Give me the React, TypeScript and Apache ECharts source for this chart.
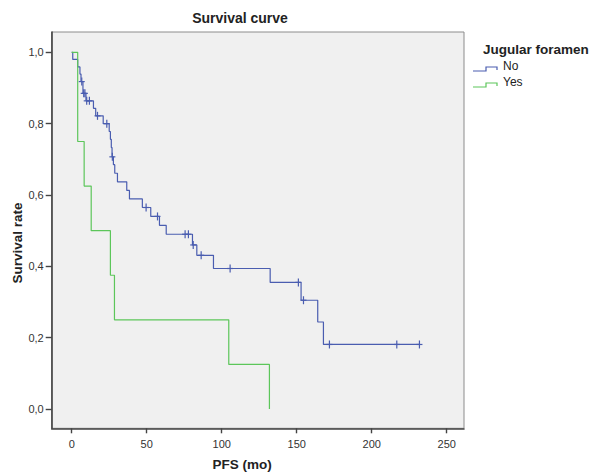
import React, { useEffect, useRef } from "react";
import * as echarts from "echarts";

// Kaplan-Meier step points: [time (months), survival after the event]
const noSteps: [number, number][] = [
  [0, 1.0], [0.7, 0.98], [4, 0.959], [5.5, 0.939], [6.2, 0.918], [7.5, 0.885],
  [9.5, 0.864], [14.5, 0.843], [16, 0.822], [21, 0.8], [25, 0.778], [25.8, 0.756],
  [26.4, 0.733], [26.9, 0.707], [27.8, 0.685], [28.7, 0.661], [30.5, 0.637],
  [36.7, 0.613], [38.5, 0.589], [47.1, 0.565], [52.7, 0.54], [58.5, 0.515],
  [63, 0.49], [80.5, 0.46], [83.4, 0.431], [94.5, 0.394], [132.3, 0.355],
  [152.9, 0.305], [164, 0.244], [167.8, 0.181], [231.8, 0.181],
];
const noCensored: [number, number][] = [
  [6.7, 0.918], [8.0, 0.885], [8.8, 0.885], [10, 0.864], [11.8, 0.864],
  [17.2, 0.822], [23.4, 0.8], [27.1, 0.707], [49.6, 0.565], [57.2, 0.54],
  [75.6, 0.49], [77.8, 0.49], [81, 0.46], [86.3, 0.431], [105.6, 0.394],
  [151.1, 0.355], [154.5, 0.305], [171.8, 0.181], [216.7, 0.181], [231.8, 0.181],
];
const yesSteps: [number, number][] = [
  [0, 1.0], [4, 0.75], [8.3, 0.625], [13, 0.5], [25.8, 0.375], [28.5, 0.25],
  [104.7, 0.125], [131.8, 0.0],
];

const xTicks = [0, 50, 100, 150, 200, 250];
const yTicks = [0, 0.2, 0.4, 0.6, 0.8, 1.0];

const BLUE = "#4a5db0";
const GREEN = "#5cc65a";
const FONT = "Liberation Sans, Arial, sans-serif";

function censorSeries(data: [number, number][], color: string) {
  return {
    type: "custom",
    data,
    z: 5,
    renderItem: (_params: any, api: any) => {
      const p = api.coord([api.value(0), api.value(1)]);
      return {
        type: "group",
        children: [
          {
            type: "line",
            shape: { x1: p[0], y1: p[1] - 4, x2: p[0], y2: p[1] + 4 },
            style: { stroke: color, lineWidth: 1.2 },
          },
          {
            type: "line",
            shape: { x1: p[0] - 3, y1: p[1], x2: p[0] + 3, y2: p[1] },
            style: { stroke: color, lineWidth: 1.2 },
          },
        ],
      };
    },
  };
}

export default function App() {
  const ref = useRef<HTMLDivElement>(null);

  useEffect(() => {
    if (!ref.current) return;
    const chart = echarts.init(ref.current, undefined, { renderer: "svg" });
    const textCol = "#222";
    chart.setOption({
      animation: false,
      backgroundColor: "#ffffff",
      grid: {
        left: 51.7,
        right: 591 - 464,
        top: 32,
        bottom: 472 - 428.3,
        show: true,
        backgroundColor: "#f0f0f0",
        borderColor: "#8c8c8c",
        borderWidth: 1,
      },
      xAxis: {
        type: "value",
        min: -13.33,
        max: 261.5,
        axisLine: { show: true, onZero: false, lineStyle: { color: "#444", width: 1.6 } },
        axisTick: {
          show: true,
          length: 5,
          customValues: xTicks,
          lineStyle: { color: "#444", width: 1.4 },
        },
        axisLabel: {
          customValues: xTicks,
          margin: 10,
          fontSize: 11,
          fontFamily: FONT,
          color: "#333",
        },
        splitLine: { show: false },
      },
      yAxis: {
        type: "value",
        min: -0.054,
        max: 1.057,
        axisLine: { show: true, onZero: false, lineStyle: { color: "#444", width: 1.6 } },
        axisTick: {
          show: true,
          length: 6,
          customValues: yTicks,
          lineStyle: { color: "#444", width: 1.4 },
        },
        axisLabel: {
          customValues: yTicks,
          margin: 8,
          fontSize: 11,
          fontFamily: FONT,
          color: "#333",
          formatter: (v: number) => v.toFixed(1).replace(".", ","),
        },
        splitLine: { show: false },
      },
      series: [
        {
          type: "line",
          name: "No",
          step: "end",
          data: noSteps,
          showSymbol: false,
          lineStyle: { color: BLUE, width: 1.2 },
          z: 3,
        },
        censorSeries(noCensored, BLUE),
        {
          type: "line",
          name: "Yes",
          step: "end",
          data: yesSteps,
          showSymbol: false,
          lineStyle: { color: GREEN, width: 1.2 },
          z: 4,
        },
      ],
      graphic: [
        {
          type: "text",
          x: 240,
          y: 18,
          style: {
            text: "Survival curve",
            font: `bold 14px ${FONT}`,
            fill: textCol,
            align: "center",
            verticalAlign: "middle",
          },
        },
        {
          type: "text",
          x: 17,
          y: 243,
          rotation: Math.PI / 2,
          style: {
            text: "Survival rate",
            font: `bold 13.5px ${FONT}`,
            fill: textCol,
            align: "center",
            verticalAlign: "middle",
          },
        },
        {
          type: "text",
          x: 242,
          y: 464,
          style: {
            text: "PFS (mo)",
            font: `bold 13.5px ${FONT}`,
            fill: textCol,
            align: "center",
            verticalAlign: "middle",
          },
        },
        {
          type: "text",
          x: 483,
          y: 49,
          style: {
            text: "Jugular foramen",
            font: `bold 13.5px ${FONT}`,
            fill: textCol,
            align: "left",
            verticalAlign: "middle",
          },
        },
        {
          type: "polyline",
          shape: { points: [[473, 71], [486, 71], [486, 67], [497, 67], [497, 70]] },
          style: { stroke: BLUE, lineWidth: 1.2, fill: "none" },
        },
        {
          type: "text",
          x: 503,
          y: 66,
          style: {
            text: "No",
            font: `12px ${FONT}`,
            fill: textCol,
            align: "left",
            verticalAlign: "middle",
          },
        },
        {
          type: "polyline",
          shape: { points: [[473, 87], [486, 87], [486, 83], [497, 83], [497, 86]] },
          style: { stroke: GREEN, lineWidth: 1.2, fill: "none" },
        },
        {
          type: "text",
          x: 503,
          y: 82,
          style: {
            text: "Yes",
            font: `12px ${FONT}`,
            fill: textCol,
            align: "left",
            verticalAlign: "middle",
          },
        },
      ],
    });
    return () => chart.dispose();
  }, []);

  return (
    <div
      ref={ref}
      style={{ position: "absolute", left: 0, top: 0, width: 591, height: 472 }}
    />
  );
}
